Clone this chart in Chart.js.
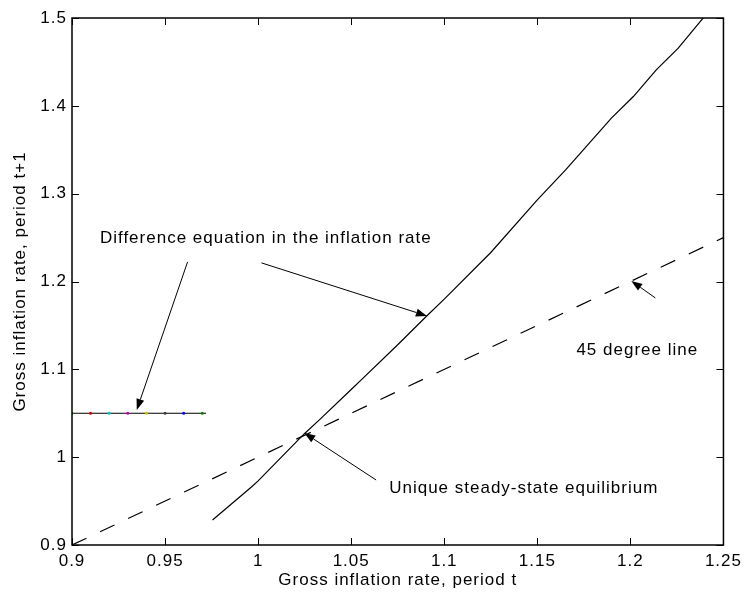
<!DOCTYPE html>
<html>
<head>
<meta charset="utf-8">
<script src="https://cdn.jsdelivr.net/npm/chart.js@4.4.1/dist/chart.umd.min.js"></script>
<style>
  html, body { margin: 0; padding: 0; background: #fff; }
  canvas { display: block; }
</style>
</head>
<body>
<canvas id="chart" width="748" height="602"></canvas>
<script>
// difference equation curve
const curveX = [0.9755, 0.9964, 1.0, 1.025, 1.0329, 1.05, 1.0554, 1.075, 1.0907, 1.1, 1.125, 1.15, 1.1652, 1.1898, 1.2016, 1.2139, 1.2257, 1.2395];
const curveY = [0.9285, 0.966, 0.973, 1.027, 1.0424, 1.077, 1.088, 1.128, 1.161, 1.18, 1.233, 1.293, 1.327, 1.386, 1.4106, 1.441, 1.4657, 1.501];

// 45 degree line
const diagX = [0.9, 1.25];
const diagY = [0.9, 1.25];

// short flat line with coloured markers
const flatX = [0.90, 0.91, 0.92, 0.93, 0.94, 0.95, 0.96, 0.97, 0.972];
const flatY = [1.05, 1.05, 1.05, 1.05, 1.05, 1.05, 1.05, 1.05, 1.05];
const flatColors = ['#00a000', '#d00000', '#00bfbf', '#bf00bf', '#bfbf00', '#404040', '#0000ff', '#008000', '#000'];

const xTicks = [0.9, 0.95, 1, 1.05, 1.1, 1.15, 1.2, 1.25];
const yTicks = [0.9, 1, 1.1, 1.2, 1.3, 1.4, 1.5];

// annotations: text and arrows in data coordinates
const notes = [
    { text: 'Difference equation in the inflation rate', x: 0.915, y: 1.2497 },
    { text: 'Unique steady-state equilibrium', x: 1.0704, y: 0.9649 },
    { text: '45 degree line', x: 1.171, y: 1.122 }
];
const arrows = [
    { from: [0.9621, 1.2223], to: [0.9348, 1.0538] },
    { from: [1.0018, 1.2212], to: [1.0907, 1.1608] },
    { from: [1.0634, 0.974], to: [1.0248, 1.0276] },
    { from: [1.2134, 1.1813], to: [1.2005, 1.2007] }
];

const FONT = '"Liberation Sans", Arial, sans-serif';
const FSIZE = 17;
const SPACING = '1px';
const toPts = (xs, ys) => xs.map((x, i) => ({ x: x, y: ys[i] }));

const framePlugin = {
    id: 'frame',
    beforeUpdate(chart) { chart.ctx.letterSpacing = SPACING; },
    beforeDraw(chart) { chart.ctx.letterSpacing = SPACING; },
    afterDatasetsDraw(chart) {
        const ctx = chart.ctx;
        const a = chart.chartArea;
        const xs = chart.scales.x;
        const ys = chart.scales.y;
        ctx.save();
        ctx.strokeStyle = '#000';
        ctx.lineWidth = 1.5;
        ctx.strokeRect(a.left, a.top, a.right - a.left, a.bottom - a.top);
        ctx.lineWidth = 1;
        ctx.beginPath();
        xTicks.forEach(v => {
            const px = Math.round(xs.getPixelForValue(v)) + 0.5;
            ctx.moveTo(px, a.bottom); ctx.lineTo(px, a.bottom - 7);
            ctx.moveTo(px, a.top); ctx.lineTo(px, a.top + 7);
        });
        yTicks.forEach(v => {
            const py = Math.round(ys.getPixelForValue(v)) + 0.5;
            ctx.moveTo(a.left, py); ctx.lineTo(a.left + 7, py);
            ctx.moveTo(a.right, py); ctx.lineTo(a.right - 7, py);
        });
        ctx.stroke();

        // arrows
        arrows.forEach(ar => {
            const x1 = xs.getPixelForValue(ar.from[0]), y1 = ys.getPixelForValue(ar.from[1]);
            const x2 = xs.getPixelForValue(ar.to[0]), y2 = ys.getPixelForValue(ar.to[1]);
            const ang = Math.atan2(y2 - y1, x2 - x1);
            const len = 11, half = 4;
            const bx = x2 - len * Math.cos(ang), by = y2 - len * Math.sin(ang);
            ctx.beginPath();
            ctx.moveTo(x1, y1); ctx.lineTo(bx, by);
            ctx.stroke();
            ctx.beginPath();
            ctx.moveTo(x2, y2);
            ctx.lineTo(bx + half * Math.sin(ang), by - half * Math.cos(ang));
            ctx.lineTo(bx - half * Math.sin(ang), by + half * Math.cos(ang));
            ctx.closePath();
            ctx.fillStyle = '#000';
            ctx.fill();
        });

        // labels
        ctx.fillStyle = '#000';
        ctx.font = FSIZE + 'px ' + FONT;
        ctx.letterSpacing = SPACING;
        ctx.textAlign = 'left';
        ctx.textBaseline = 'middle';
        notes.forEach(n => {
            ctx.fillText(n.text, xs.getPixelForValue(n.x), ys.getPixelForValue(n.y));
        });
        ctx.restore();
    }
};

new Chart(document.getElementById('chart'), {
    type: 'scatter',
    data: {
        datasets: [
            {
                data: toPts(curveX, curveY),
                showLine: true,
                borderColor: '#000',
                borderWidth: 1.2,
                pointRadius: 0
            },
            {
                data: toPts(diagX, diagY),
                showLine: true,
                borderColor: '#000',
                borderWidth: 1.2,
                borderDash: [16, 15],
                pointRadius: 0
            },
            {
                data: toPts(flatX, flatY),
                showLine: true,
                borderColor: '#000',
                borderWidth: 1.2,
                pointRadius: flatX.map((x, i) => i < flatX.length - 1 ? 1.5 : 0),
                pointBackgroundColor: flatColors,
                pointBorderColor: flatColors,
                pointBorderWidth: 0
            }
        ]
    },
    options: {
        responsive: false,
        animation: false,
        devicePixelRatio: 1,
        layout: { padding: { left: 0, top: 18, right: 23, bottom: 0 } },
        plugins: { legend: { display: false }, tooltip: { enabled: false } },
        scales: {
            x: {
                type: 'linear',
                min: 0.9,
                max: 1.25,
                afterBuildTicks: s => { s.ticks = xTicks.map(v => ({ value: v })); },
                afterFit: s => { s.height = 57; },
                grid: { drawOnChartArea: false, drawTicks: false },
                border: { display: false },
                ticks: {
                    color: '#000',
                    padding: 6,
                    maxRotation: 0,
                    font: { family: FONT, size: FSIZE },
                    callback: v => String(parseFloat(v.toFixed(2)))
                },
                title: {
                    display: true,
                    text: 'Gross inflation rate, period t',
                    color: '#000',
                    font: { family: FONT, size: FSIZE, lineHeight: 1.2 },
                    padding: { top: 0, bottom: 11 }
                }
            },
            y: {
                type: 'linear',
                min: 0.9,
                max: 1.5,
                afterBuildTicks: s => { s.ticks = yTicks.map(v => ({ value: v })); },
                afterFit: s => { s.width = 72; },
                grid: { drawOnChartArea: false, drawTicks: false },
                border: { display: false },
                ticks: {
                    color: '#000',
                    padding: 5,
                    font: { family: FONT, size: FSIZE },
                    callback: v => String(parseFloat(v.toFixed(2)))
                },
                title: {
                    display: true,
                    text: 'Gross inflation rate, period t+1',
                    color: '#000',
                    font: { family: FONT, size: FSIZE, lineHeight: 1.2 },
                    padding: { top: 10, bottom: 0 }
                }
            }
        }
    },
    plugins: [framePlugin]
});
</script>
</body>
</html>
